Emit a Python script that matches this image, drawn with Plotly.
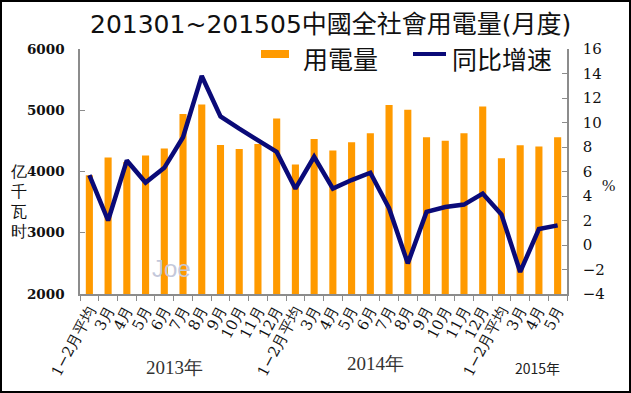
import plotly.graph_objects as go

# ---- data ----
years = ["2013", "2014", "2015"]
month_labels_2013 = ["1−2月平均", "3月", "4月", "5月", "6月", "7月", "8月", "9月", "10月", "11月", "12月"]
month_labels_2014 = ["1−2月平均", "3月", "4月", "5月", "6月", "7月", "8月", "9月", "10月", "11月", "12月"]
month_labels_2015 = ["1−2月平均", "3月", "4月", "5月"]

consumption = [3940, 4228, 4155, 4260, 4374, 4938, 5094, 4434, 4369, 4450, 4867,
               4114, 4532, 4341, 4477, 4623, 5084, 5008, 4558, 4504, 4623, 5062,
               4216, 4428, 4407, 4558]
growth = [5.7, 2.0, 6.9, 5.1, 6.3, 8.8, 13.8, 10.5, 9.5, 8.5, 7.6,
          4.6, 7.2, 4.6, 5.3, 5.9, 3.0, -1.5, 2.7, 3.1, 3.3, 4.2,
          2.5, -2.2, 1.3, 1.6]

tick_labels = month_labels_2013 + month_labels_2014 + month_labels_2015
categories = ([f"2013|{m}" for m in month_labels_2013] +
              [f"2014|{m}" for m in month_labels_2014] +
              [f"2015|{m}" for m in month_labels_2015])

series_names = ["用電量", "同比增速"]
title_text = "201301~201505中國全社會用電量(月度)"

# ---- layout geometry (pixels) ----
W, H = 631, 393
L, R, T, B = 80, 64, 49, 99
PW, PH = W - L - R, H - T - B

def px(x):
    return (x - L) / PW

def py(y):
    return (H - B - y) / PH

ORANGE = "#FF9A00"
NAVY = "#0A0A78"
AXIS = "#8C8C8C"
SERIF = "Liberation Serif, DejaVu Serif, serif"
DSERIF = "DejaVu Serif, Liberation Serif, serif"
SANS = "Noto Sans CJK SC, Noto Sans, sans-serif"
TITLE_FONT = "DejaVu Sans, Noto Sans CJK SC, sans-serif"

fig = go.Figure()
fig.add_trace(go.Bar(x=categories, y=consumption, name=series_names[0],
                     marker=dict(color=ORANGE, line=dict(width=0)), yaxis="y"))
fig.add_trace(go.Scatter(x=categories, y=growth, name=series_names[1], mode="lines",
                         line=dict(color=NAVY, width=4.5), yaxis="y2"))

fig.update_layout(
    width=W, height=H,
    margin=dict(l=L, r=R, t=T, b=B),
    paper_bgcolor="white", plot_bgcolor="white",
    showlegend=False,
    bargap=0.62,
    xaxis=dict(type="category", tickvals=categories, ticktext=tick_labels,
               tickangle=-62, tickson="boundaries", ticks="outside", ticklen=5,
               tickcolor=AXIS, showline=True, linecolor=AXIS, linewidth=1.5,
               showgrid=False, automargin=False,
               tickfont=dict(family=DSERIF, size=15, color="#111")),
    yaxis=dict(range=[2000, 6000], dtick=1000, ticks="inside", ticklen=5,
               tickcolor=AXIS, showline=True, linecolor=AXIS, linewidth=1.5,
               showgrid=False, zeroline=False, ticklabelstandoff=11,
               tickfont=dict(family=DSERIF, size=13.5, color="#111", weight="bold")),
    yaxis2=dict(range=[-4, 16], dtick=2, overlaying="y", side="right",
                ticks="inside", ticklen=5, tickcolor=AXIS, showline=True,
                linecolor=AXIS, linewidth=1.5, showgrid=False, zeroline=False,
                ticklabelstandoff=11,
                tickfont=dict(family=DSERIF, size=15, color="#111")),
)

annotations = [
    dict(text=title_text, x=px(330), y=py(25), font=dict(family=TITLE_FONT, size=25, color="#111")),
    dict(text="亿<br>千<br>瓦<br>时", x=px(18), y=py(202), font=dict(family=SERIF, size=15.5, color="#111")),
    dict(text="%", x=px(608), y=py(185), font=dict(family=SERIF, size=16, color="#111")),
    dict(text=series_names[0], x=px(301), y=py(58), xanchor="left", font=dict(family=SANS, size=25, color="#111")),
    dict(text=series_names[1], x=px(450), y=py(58), xanchor="left", font=dict(family=SANS, size=25, color="#111")),
    dict(text=years[0] + "年", x=px(174), y=py(367), font=dict(family=SERIF, size=19, color="#333")),
    dict(text=years[1] + "年", x=px(375), y=py(363), font=dict(family=SERIF, size=19, color="#333")),
    dict(text=years[2] + "年", x=px(537), y=py(368), font=dict(family=SANS, size=14, color="#222")),
    dict(text="Joe", x=px(171), y=py(268), font=dict(family="Liberation Sans, Arial, sans-serif", size=24, color="#C4C8DA")),
]
for a in annotations:
    a.update(xref="paper", yref="paper", showarrow=False)
    a.setdefault("xanchor", "center")
    a.setdefault("yanchor", "middle")
fig.update_layout(annotations=annotations)

shapes = [
    dict(type="rect", x0=px(261), x1=px(289), y0=py(50), y1=py(58),
         fillcolor=ORANGE, line=dict(width=0)),
    dict(type="line", x0=px(413), x1=px(446), y0=py(54), y1=py(54),
         line=dict(color=NAVY, width=4)),
    dict(type="rect", x0=px(1), x1=px(630), y0=py(392), y1=py(1),
         line=dict(color="black", width=2), fillcolor="rgba(0,0,0,0)"),
]
for s in shapes:
    s.update(xref="paper", yref="paper")
fig.update_layout(shapes=shapes)

fig.write_html("out.html", config={"displayModeBar": False},
               post_script="document.body.style.margin='0';document.body.style.overflow='hidden';")
